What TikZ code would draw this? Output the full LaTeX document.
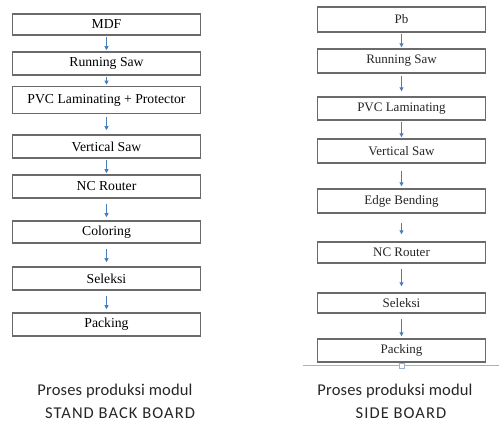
\documentclass[tikz,border=0pt]{standalone}
\usepackage{fontspec}
\setmainfont{Liberation Serif}
\newfontfamily\capfont[LetterSpace=1]{Carlito}
\newfontfamily\capwide[LetterSpace=6.5]{Carlito}
\usetikzlibrary{arrows.meta}
\definecolor{boxgray}{HTML}{6A6A6A}
\definecolor{arrblue}{HTML}{4A7EBB}
\definecolor{lineblue}{HTML}{9DB3D6}
\tikzset{
  lbox/.style={draw=boxgray, line width=1.6pt, fill=white, minimum width=188pt, inner sep=0pt, font=\fontsize{13.7}{15}\selectfont, text=black},
  rbox/.style={draw=boxgray, line width=1.4pt, fill=white, minimum width=168pt, inner sep=0pt, font=\fontsize{13}{14}\selectfont, text=black!85},
  arr/.style={draw=arrblue, line width=0.9pt, -{Triangle[length=4pt,width=4pt]}},
  captext/.style={font=\capfont\fontsize{16.5}{18}\selectfont, text=black!85, inner sep=0pt},
  capcaps/.style={font=\capwide\fontsize{16.5}{18}\selectfont, text=black!85, inner sep=0pt}
}
\begin{document}
\begin{tikzpicture}[x=1pt,y=-1pt]
\useasboundingbox (0,0) rectangle (499,421);
% left column
\node[lbox, minimum height=21pt] (l1) at (106.5,24.5) {MDF};
\node[lbox, minimum height=23pt] (l2) at (106.5,63.5) {Running Saw};
\node[lbox, minimum height=27pt] (l3) at (106.5,100) {PVC Laminating + Protector};
\node[lbox, minimum height=23pt] (l4) at (106.5,146.5) {Vertical Saw};
\node[lbox, minimum height=23pt] (l5) at (106.5,186.5) {NC Router};
\node[lbox, minimum height=22pt] (l6) at (106.5,232) {Coloring};
\node[lbox, minimum height=23pt] (l7) at (106.5,278.5) {Seleksi};
\node[lbox, minimum height=23pt] (l8) at (106.5,324.5) {Packing};
\draw[arr, shorten <=1pt, shorten >=1pt] (l1.south) -- (l2.north);
\draw[arr, shorten <=1pt, shorten >=1pt] (l2.south) -- (l3.north);
\draw[arr, shorten <=3pt, shorten >=4pt] (l3.south) -- (l4.north);
\draw[arr, shorten <=1pt, shorten >=1pt] (l4.south) -- (l5.north);
\draw[arr, shorten <=5pt, shorten >=3pt] (l5.south) -- (l6.north);
\draw[arr, shorten <=5pt, shorten >=4pt] (l6.south) -- (l7.north);
\draw[arr, shorten <=5pt, shorten >=3pt] (l7.south) -- (l8.north);
\node[captext] (lc1) at (115,391) {Proses produksi modul};
\node[capcaps] (lc2) at (120,413) {STAND BACK BOARD};
% right column
\node[rbox, minimum height=25pt] (r1) at (401.5,19.5) {Pb};
\node[rbox, minimum height=24pt] (r2) at (401.5,61) {Running Saw};
\node[rbox, minimum height=23pt] (r3) at (401.5,108.5) {PVC Laminating};
\node[rbox, minimum height=24pt] (r4) at (401.5,151) {Vertical Saw};
\node[rbox, minimum height=24pt] (r5) at (401.5,201) {Edge Bending};
\node[rbox, minimum height=21pt] (r6) at (401.5,252.5) {NC Router};
\node[rbox, minimum height=20pt] (r7) at (401.5,303) {Seleksi};
\node[rbox, minimum height=23pt] (r8) at (401.5,350.5) {Packing};
\draw[arr, shorten <=1pt, shorten >=1pt] (r1.south) -- (r2.north);
\draw[arr, shorten <=2pt, shorten >=5pt] (r2.south) -- (r3.north);
\draw[arr, shorten <=1pt, shorten >=1pt] (r3.south) -- (r4.north);
\draw[arr, shorten <=7pt, shorten >=2pt] (r4.south) -- (r5.north);
\draw[arr, shorten <=9pt, shorten >=7pt] (r5.south) -- (r6.north);
\draw[arr, shorten <=5pt, shorten >=6pt] (r6.south) -- (r7.north);
\draw[arr, shorten <=5pt, shorten >=2pt] (r7.south) -- (r8.north);
\coordinate (ll) at (303,365.5);
\coordinate (lr) at (499,365.5);
\draw[lineblue, line width=1pt] (ll) -- (lr);
\node[draw=lineblue, fill=white, line width=0.8pt, minimum size=5pt, inner sep=0pt] (sq) at (401.5,365.5) {};
\node[captext] (rc1) at (395,391) {Proses produksi modul};
\node[capcaps] (rc2) at (401,413) {SIDE BOARD};
\end{tikzpicture}
\end{document}
